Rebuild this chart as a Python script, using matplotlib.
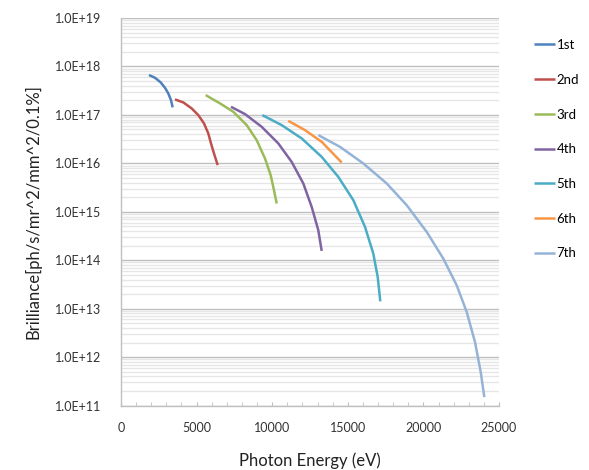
import numpy as np
import matplotlib.pyplot as plt
from matplotlib.ticker import LogLocator, FuncFormatter, MultipleLocator, NullFormatter

# harmonic brilliance curves (energy in eV)
e1 = [1852, 2249, 2626, 2910, 3128, 3307, 3419]
b1 = [6.64e17, 5.84e17, 4.69e17, 3.63e17, 2.78e17, 2.02e17, 1.43e17]

e2 = [3571, 4121, 4676, 5113, 5490, 5774, 5953, 6151, 6396]
b2 = [2.09e17, 1.81e17, 1.36e17, 9.9e16, 6.67e16, 4.15e16, 2.58e16, 1.60e16, 9.2e15]

e3 = [5602, 6548, 7428, 8314, 8975, 9524, 9901, 10119, 10298]
b3 = [2.56e17, 1.73e17, 1.16e17, 6.15e16, 3.01e16, 1.26e16, 5.7e15, 2.8e15, 1.48e15]

e4 = [7275, 8201, 9306, 10404, 11290, 12057, 12613, 13049, 13274]
b4 = [1.47e17, 1.04e17, 5.68e16, 2.58e16, 1.07e16, 3.85e15, 1.26e15, 4.17e14, 1.56e14]

e5 = [9345, 10629, 11952, 13274, 14372, 15365, 16139, 16687, 16978, 17150]
b5 = [9.9e16, 6.15e16, 3.27e16, 1.36e16, 5.26e15, 1.74e15, 4.88e14, 1.37e14, 4.52e13, 1.42e13]

e6 = [11065, 12170, 13274, 14597]
b6 = [7.55e16, 4.85e16, 2.78e16, 1.04e16]

e7 = [13049, 14485, 16026, 17573, 18896, 20219, 21317, 22203, 22865, 23413, 23791, 24029]
b7 = [3.83e16, 2.19e16, 9.95e15, 3.85e15, 1.37e15, 3.85e14, 1.08e14, 3.04e13,
      8.55e12, 2.05e12, 4.92e11, 1.50e11]

labels = ['1st', '2nd', '3rd', '4th', '5th', '6th', '7th']
colors = ['#4F81BD', '#C0504D', '#9BBB59', '#8064A2', '#4BACC6', '#F79646', '#95B3D7']

plt.rcParams['font.family'] = ['Lato', 'DejaVu Sans']

fig = plt.figure(figsize=(5.89, 4.70), dpi=100)
ax = fig.add_axes([0.2054, 0.137, 0.6418, 0.8247])

series = [(e1, b1), (e2, b2), (e3, b3), (e4, b4), (e5, b5), (e6, b6), (e7, b7)]
for (x, y), lab, c in zip(series, labels, colors):
    ax.plot(x, y, color=c, lw=1.8, label=lab, solid_capstyle='butt',
            solid_joinstyle='round')

ax.set_yscale('log')
ax.set_ylim(1e11, 1e19)
ax.set_xlim(0, 25000)

ax.yaxis.set_major_locator(LogLocator(base=10, numticks=20))
ax.yaxis.set_minor_locator(LogLocator(base=10, subs=np.arange(2, 10), numticks=100))
ax.yaxis.set_major_formatter(FuncFormatter(lambda v, p: f"{v:.1E}"))
ax.yaxis.set_minor_formatter(NullFormatter())
ax.xaxis.set_major_locator(MultipleLocator(5000))
ax.xaxis.set_minor_locator(MultipleLocator(1000))

ax.grid(True, which='major', axis='y', color='#BFBFBF', lw=1.0)
ax.grid(True, which='minor', axis='y', color='#E6E6E6', lw=1.0)
ax.set_axisbelow(True)

for s in ['top', 'right']:
    ax.spines[s].set_visible(False)
for s in ['left', 'bottom']:
    ax.spines[s].set_color('#BFBFBF')
    ax.spines[s].set_linewidth(1.0)

ax.tick_params(axis='y', which='both', length=0, pad=14, labelsize=9, labelcolor='#333333')
ax.tick_params(axis='x', which='both', direction='in', length=3, color='#BFBFBF',
               pad=12, labelsize=9, labelcolor='#333333')

ax.set_xlabel('Photon Energy (eV)', fontsize=12, labelpad=13, color='#222222')
ax.set_ylabel('Brilliance[ph/s/mr^2/mm^2/0.1%]', fontsize=12, labelpad=10, color='#222222')

fig.legend(loc='upper left', bbox_to_anchor=(0.897, 0.928), frameon=False,
           fontsize=9.5, handlelength=1.6, handletextpad=0.15, labelspacing=1.72,
           borderaxespad=0)

fig.savefig('out.png', dpi=100)
